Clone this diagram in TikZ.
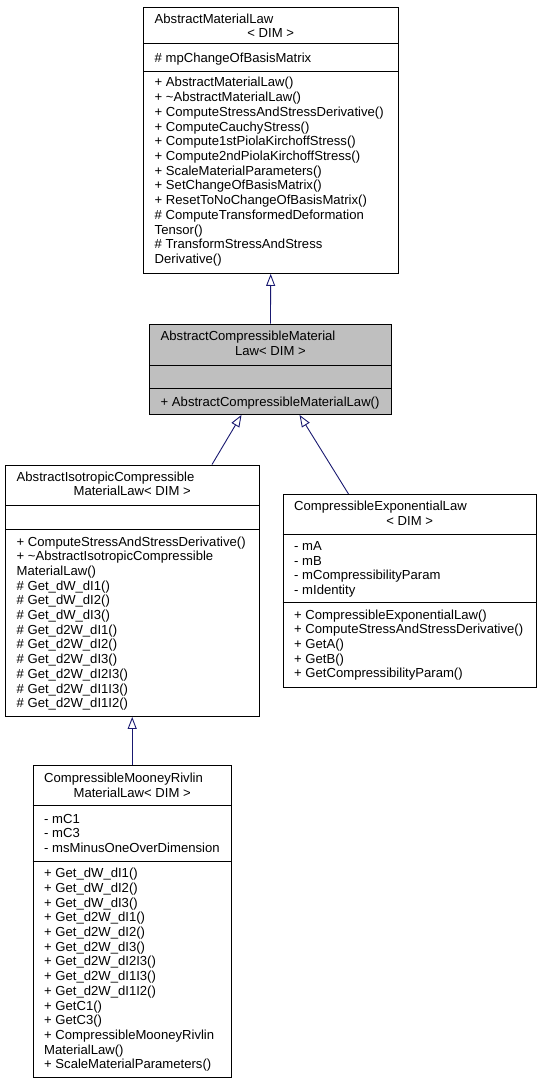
\documentclass[tikz,border=0pt]{standalone}
\usepackage{fontspec}
\setmainfont{Liberation Sans}
\usetikzlibrary{arrows.meta}
\definecolor{edgeblue}{HTML}{191970}
\definecolor{titlegray}{HTML}{BFBFBF}

\begin{document}
\begin{tikzpicture}[x=1pt,y=-1pt,
  cls/.style={draw=black,line width=0.9pt,rectangle,inner sep=0pt,anchor=north west},
  sep/.style={line width=0.9pt},
  txt/.style={anchor=base west,inner sep=0pt,font=\fontsize{13.1}{14.7}\selectfont},
  ctxt/.style={txt,anchor=base},
  inherit/.style={edgeblue,line width=0.9pt,-{Triangle[open,length=12pt,width=9pt]}}]
\useasboundingbox (0,0) rectangle (541,1083);
\node[cls,minimum width=254.5pt,minimum height=266pt] (aml) at (143,7) {};
\node[cls,fill=titlegray,minimum width=242pt,minimum height=90.5pt] (acml) at (149,323.5) {};
\node[cls,minimum width=253.5pt,minimum height=251.5pt] (aicml) at (5,464.5) {};
\node[cls,minimum width=253.5pt,minimum height=193pt] (cel) at (282.5,494) {};
\node[cls,minimum width=198.5pt,minimum height=312pt] (cmrml) at (32.5,765) {};
\draw[sep] (aml.west |- 0,43.5) -- (aml.east |- 0,43.5);
\draw[sep] (aml.west |- 0,71) -- (aml.east |- 0,71);
\draw[sep] (acml.west |- 0,365) -- (acml.east |- 0,365);
\draw[sep] (acml.west |- 0,388.5) -- (acml.east |- 0,388.5);
\draw[sep] (aicml.west |- 0,505) -- (aicml.east |- 0,505);
\draw[sep] (aicml.west |- 0,529.5) -- (aicml.east |- 0,529.5);
\draw[sep] (cel.west |- 0,534) -- (cel.east |- 0,534);
\draw[sep] (cel.west |- 0,602.5) -- (cel.east |- 0,602.5);
\draw[sep] (cmrml.west |- 0,805.5) -- (cmrml.east |- 0,805.5);
\draw[sep] (cmrml.west |- 0,861) -- (cmrml.east |- 0,861);
\node[txt] (aml-t) at (154.5,23.8) {AbstractMaterialLaw};
\node[ctxt] (aml-d) at (aml.north |- 0,37.5) {< DIM >};
\node[txt] (aml-a) at (154.5,63) {\# mpChangeOfBasisMatrix};
\foreach \t [count=\i from 0] in {+ AbstractMaterialLaw(),+ \textasciitilde AbstractMaterialLaw(),
  + ComputeStressAndStressDerivative(),+ ComputeCauchyStress(),+ Compute1stPiolaKirchoffStress(),
  + Compute2ndPiolaKirchoffStress(),+ ScaleMaterialParameters(),+ SetChangeOfBasisMatrix(),
  + ResetToNoChangeOfBasisMatrix(),\# ComputeTransformedDeformation,Tensor(),
  \# TransformStressAndStress,Derivative()}
  \node[txt] (aml-m\i) at (154.5,87+14.7*\i) {\t};
\node[txt] (acml-t) at (160.5,340) {AbstractCompressibleMaterial};
\node[ctxt] (acml-d) at (acml.north |- 0,355.5) {Law< DIM >};
\node[txt] (acml-m) at (160.5,406.5) {+ AbstractCompressibleMaterialLaw()};
\node[txt] (aicml-t) at (16.5,481.3) {AbstractIsotropicCompressible};
\node[ctxt] (aicml-d) at (aicml.north |- 0,495.8) {MaterialLaw< DIM >};
\foreach \t [count=\i from 0] in {+ ComputeStressAndStressDerivative(),
  + \textasciitilde AbstractIsotropicCompressible,MaterialLaw(),
  \# Get\_dW\_dI1(),\# Get\_dW\_dI2(),\# Get\_dW\_dI3(),\# Get\_d2W\_dI1(),\# Get\_d2W\_dI2(),
  \# Get\_d2W\_dI3(),\# Get\_d2W\_dI2I3(),\# Get\_d2W\_dI1I3(),\# Get\_d2W\_dI1I2()}
  \node[txt] (aicml-m\i) at (16.5,546+14.7*\i) {\t};
\node[txt] (cel-t) at (294,510.5) {CompressibleExponentialLaw};
\node[ctxt] (cel-d) at (cel.north |- 0,525.2) {< DIM >};
\foreach \t [count=\i from 0] in {- mA,- mB,- mCompressibilityParam,- mIdentity}
  \node[txt] (cel-a\i) at (294,550.5+14.7*\i) {\t};
\foreach \t [count=\i from 0] in {+ CompressibleExponentialLaw(),+ ComputeStressAndStressDerivative(),
  + GetA(),+ GetB(),+ GetCompressibilityParam()}
  \node[txt] (cel-m\i) at (294,619+14.7*\i) {\t};
\node[txt] (cmrml-t) at (44,782.5) {CompressibleMooneyRivlin};
\node[ctxt] (cmrml-d) at (cmrml.north |- 0,797) {MaterialLaw< DIM >};
\foreach \t [count=\i from 0] in {- mC1,- mC3,- msMinusOneOverDimension}
  \node[txt] (cmrml-a\i) at (44,823+14.7*\i) {\t};
\foreach \t [count=\i from 0] in {+ Get\_dW\_dI1(),+ Get\_dW\_dI2(),+ Get\_dW\_dI3(),
  + Get\_d2W\_dI1(),+ Get\_d2W\_dI2(),+ Get\_d2W\_dI3(),+ Get\_d2W\_dI2I3(),+ Get\_d2W\_dI1I3(),
  + Get\_d2W\_dI1I2(),+ GetC1(),+ GetC3(),+ CompressibleMooneyRivlin,MaterialLaw(),
  + ScaleMaterialParameters()}
  \node[txt] (cmrml-m\i) at (44,877.7+14.7*\i) {\t};
\draw[inherit] (acml.north) -- (aml.south);
\draw[inherit] (aicml.north -| 212,0) -- (acml.south -| 241.5,0);
\draw[inherit] (cel.north -| 348.5,0) -- (acml.south -| 299.5,0);
\draw[inherit] (cmrml.north) -- (aicml.south);
\end{tikzpicture}
\end{document}
